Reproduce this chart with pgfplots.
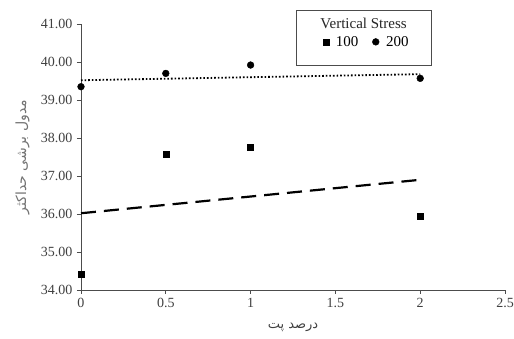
\documentclass[border=0pt]{standalone}
\usepackage{fontspec}
\setmainfont{Liberation Serif}
\newfontfamily\arabicfont[Script=Arabic]{DejaVu Sans}
\TeXXeTstate=1
\usepackage{pgfplots}
\pgfplotsset{compat=1.18}
\definecolor{txtgray}{HTML}{404040}
\begin{document}
\begin{tikzpicture}
\useasboundingbox (-81pt,-49pt) rectangle (433pt,290pt);
\begin{axis}[
  at={(0,0)}, anchor=south west,
  scale only axis, width=424pt, height=266pt,
  xmin=0, xmax=2.5, ymin=34, ymax=41,
  xtick={0,0.5,1,1.5,2,2.5},
  xticklabels={0,0.5,1,1.5,2,2.5},
  ytick={34,35,36,37,38,39,40,41},
  yticklabels={34.00,35.00,36.00,37.00,38.00,39.00,40.00,41.00},
  axis lines*=left,
  axis line style={black!70, line width=0.7pt},
  tick align=outside,
  major tick length=4pt,
  tick style={black!70, line width=0.7pt},
  ticklabel style={font=\fontsize{14}{16}\selectfont, text=txtgray},
  xticklabel style={yshift=-1pt},
  yticklabel style={xshift=-1pt},
  xlabel={\arabicfont\fontsize{13}{15}\selectfont\beginR درصد پت\endR},
  ylabel={\arabicfont\fontsize{14}{16}\selectfont\beginR مدول برشی حداکثر\endR},
  xlabel style={text=txtgray, at={(axis description cs:0.5,-0.14)}, anchor=center},
  ylabel style={text=black!55, at={(axis description cs:-0.138,0.5)}, anchor=center},
  clip=false,
  legend columns=2,
  legend style={draw=none, fill=none, at={(axis cs:1.685,40.53)}, anchor=center,
    font=\fontsize{15}{17}\selectfont, column sep=12pt, inner sep=1pt},
  legend cell align=left,
]
\addplot[only marks, mark=square*, mark size=3pt, black]
  coordinates {(0,34.42) (0.5,37.58) (1,37.75) (2,35.93)};
\addlegendentry{\hspace{-7pt}100}
\addplot[only marks, mark=*, mark size=3.4pt, black]
  coordinates {(0,39.35) (0.5,39.70) (1,39.92) (2,39.57)};
\addlegendentry{\hspace{-7pt}200}
\addplot[black, line width=2.2pt, dash pattern=on 15pt off 8pt, forget plot]
  coordinates {(0,36.02) (2,36.90)};
\addplot[black, line width=1.8pt, dash pattern=on 1.6pt off 2pt, forget plot]
  coordinates {(0,39.52) (2,39.68)};
\draw[black!70, line width=0.8pt, fill=white] (axis cs:1.268,39.92) rectangle (axis cs:2.064,41.37);
\node[font=\fontsize{15}{17}\selectfont, text=black!85] at (axis cs:1.666,41.02) {Vertical Stress};
\end{axis}
\end{tikzpicture}
\end{document}
